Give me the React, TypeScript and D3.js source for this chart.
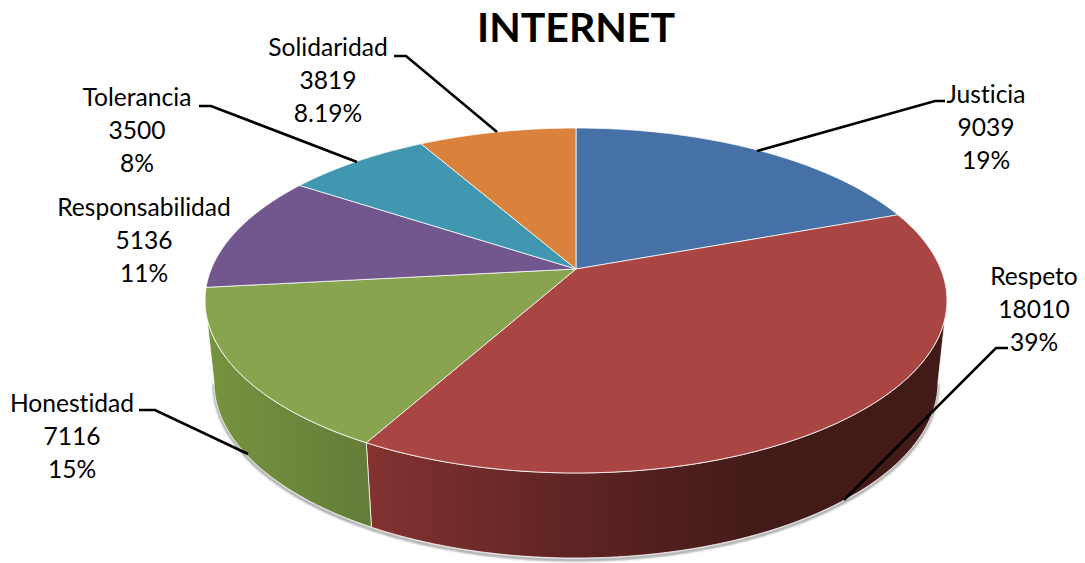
import React, { useMemo } from "react";
import * as d3 from "d3";

const categories = ["Justicia", "Respeto", "Honestidad", "Responsabilidad", "Tolerancia", "Solidaridad"];
const values = [9039, 18010, 7116, 5136, 3500, 3819];
const percentLabels = ["19%", "39%", "15%", "11%", "8%", "8.19%"];
const colors = ["#4571a6", "#a94543", "#89a44e", "#71578d", "#4197af", "#da823c"];
const wallStops = [
  ["#4571a6", "#4571a6"],
  ["#82322f", "#421a18"],
  ["#76933f", "#647c38"],
  ["#71578d", "#71578d"],
  ["#4197af", "#4197af"],
  ["#da823c", "#da823c"],
];
const labelCenters: [number, number][] = [
  [986, 103], [1034, 285], [72, 412], [144, 216], [137, 106], [328, 56],
];
const leaders: [number, number][][] = [
  [[945, 101], [935, 101], [757, 151]],
  [[1008, 348], [996, 348], [844, 500]],
  [[139, 410], [155, 410], [248, 454]],
  [],
  [[199, 106], [211, 106], [357, 162]],
  [[394, 56], [406, 56], [497, 132]],
];

const W = 1085, H = 563;
const cx = 576, apexY = 269;
const topEll = { cy: 300.5, rx: 371, ry: 172.5 };
const lowEll = { cy: 382, rx: 362, ry: 176 };
const kPersp = 0.1826, bY = 166.7, aX = 364.7;

const project = (th: number): [number, number] => {
  const d = 1 + kPersp * Math.cos(th);
  return [cx + (aX * Math.sin(th)) / d, apexY - (bY * Math.cos(th)) / d];
};
const paramOf = (th: number) => {
  const [x, y] = project(th);
  let t = Math.atan2((x - cx) / topEll.rx, -(y - topEll.cy) / topEll.ry);
  if (t < 0) t += 2 * Math.PI;
  return t;
};
const onEll = (e: typeof topEll, t: number): [number, number] => [
  cx + e.rx * Math.sin(t),
  e.cy - e.ry * Math.cos(t),
];
const samples = (a: number, b: number) => {
  const n = Math.max(2, Math.ceil(Math.abs(b - a) * 60));
  return d3.range(n + 1).map((i) => a + ((b - a) * i) / n);
};

export default function App() {
  const line = d3.line();
  const arcs = useMemo(() => d3.pie<number>().sort(null).startAngle(0).endAngle(2 * Math.PI)(values), []);
  const walls = arcs.map((a, i) => {
    const t0 = Math.max(paramOf(a.startAngle), Math.PI / 2);
    const t1 = Math.min(a.endAngle >= 2 * Math.PI - 1e-6 ? 2 * Math.PI : paramOf(a.endAngle), (3 * Math.PI) / 2);
    if (t1 <= t0) return null;
    const ts = samples(t0, t1);
    const pts = [...ts.map((t) => onEll(topEll, t)), ...ts.slice().reverse().map((t) => onEll(lowEll, t))];
    return { i, d: line(pts) + "Z" };
  });
  const shadow = line(samples(Math.PI / 2, (3 * Math.PI) / 2).map((t) => onEll(lowEll, t))) || "";
  return (
    <svg
      width={W}
      height={H}
      viewBox={`0 0 ${W} ${H}`}
      style={{ position: "absolute", left: 0, top: 0, display: "block", background: "#fff" }}
    >
      <defs>
        <filter id="soft" x="-10%" y="-10%" width="120%" height="120%">
          <feGaussianBlur stdDeviation="1.3" />
        </filter>
        <linearGradient id="wall1" gradientUnits="userSpaceOnUse" x1="372" x2="760" y1="0" y2="0">
          <stop offset="0" stopColor={wallStops[1][0]} />
          <stop offset="0.5" stopColor="#5f2524" />
          <stop offset="1" stopColor={wallStops[1][1]} />
        </linearGradient>
        <linearGradient id="wall2" gradientUnits="userSpaceOnUse" x1="210" x2="372" y1="0" y2="0">
          <stop offset="0" stopColor={wallStops[2][0]} />
          <stop offset="1" stopColor={wallStops[2][1]} />
        </linearGradient>
      </defs>
      <path d={shadow} transform="translate(0,2)" fill="none" stroke="#9a9a9a" strokeWidth={2.5} filter="url(#soft)" />
      {walls.map((w) =>
        w ? (
          <path key={w.i} d={w.d} fill={`url(#wall${w.i})`} stroke="#fff" strokeOpacity={0.75} strokeWidth={1} strokeLinejoin="round" />
        ) : null
      )}
      {arcs.map((a, i) => {
        const pts: [number, number][] = [[cx, apexY], ...samples(a.startAngle, a.endAngle).map(project)];
        return (
          <path key={i} d={line(pts) + "Z"} fill={colors[i]} stroke="#fff" strokeOpacity={0.75} strokeWidth={1} strokeLinejoin="round" />
        );
      })}
      {leaders.map((l, i) =>
        l.length ? <path key={i} d={line(l) || ""} fill="none" stroke="#000" strokeWidth={2.6} /> : null
      )}
      <text x={576} y={42} textAnchor="middle" fontFamily="Lato" fontWeight={700} fontSize={41} fill="#000">
        INTERNET
      </text>
      {categories.map((c, i) => (
        <g key={c} fontFamily="Lato" fontSize={24.6} fill="#000" textAnchor="middle" style={{ fontVariantLigatures: "none" }}>
          {[c, String(values[i]), percentLabels[i]].map((s, j) => (
            <text key={j} x={labelCenters[i][0]} y={labelCenters[i][1] + j * 33}>
              {s}
            </text>
          ))}
        </g>
      ))}
    </svg>
  );
}
